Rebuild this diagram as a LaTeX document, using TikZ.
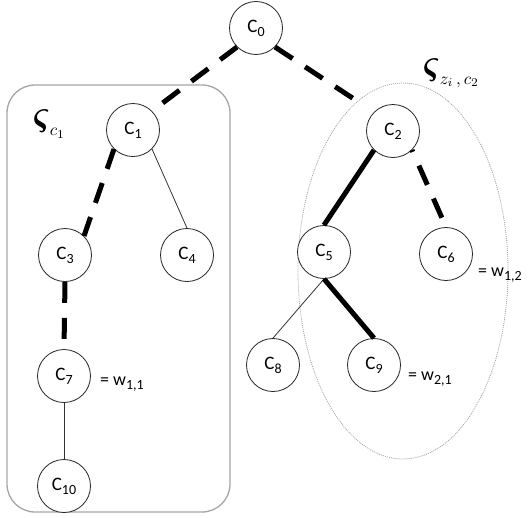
\documentclass[tikz,border=0pt]{standalone}
\usepackage[no-math]{fontspec}
\setmainfont{Carlito}
\newcommand\cn[1]{C\raisebox{-4pt}{\fontsize{14}{14}\selectfont #1}}
\newcommand\wl[1]{= w\raisebox{-4pt}{\fontsize{14}{14}\selectfont #1}}
\newcommand\bigsig{\scalebox{3.3}[4.2]{$\boldsymbol{\varsigma}$}}
\usepackage{amsmath}
\begin{document}
\begin{tikzpicture}[x=1pt,y=-1pt,
  cnode/.style={circle, draw=black!85, fill=white, line width=0.8pt, minimum size=53pt, inner sep=0pt, font=\fontsize{19}{19}\selectfont},
  thinedge/.style={draw=black!80, line width=0.8pt},
  heavy/.style={line width=5pt},
  heavydash/.style={line width=5pt, dash pattern=on 21pt off 15pt},
  wlab/.style={anchor=base west, inner sep=0pt, font=\fontsize{18}{18}\selectfont},
  cluster/.style={draw=gray!70, line width=1.3pt, rounded corners=28pt},
  cloud/.style={draw=gray!70, line width=0.8pt, dash pattern=on 1pt off 1pt},
  siglab/.style={inner sep=0pt}
]
\useasboundingbox (0,0) rectangle (530,517);
% enclosures
\draw[cluster] (7,85) rectangle (230,512);
\draw[cloud] (403,271) ellipse [x radius=105pt, y radius=188pt];
% nodes
\node[cnode] (C0) at (256,28) {\cn{0}};
\node[cnode] (C1) at (133,130) {\cn{1}};
\node[cnode] (C2) at (393,131) {\cn{2}};
\node[cnode] (C3) at (65,255) {\cn{3}};
\node[cnode] (C4) at (187,255) {\cn{4}};
\node[cnode] (C5) at (324,252) {\cn{5}};
\node[cnode] (C6) at (446,254) {\cn{6}};
\node[cnode] (C7) at (64,376) {\cn{7}};
\node[cnode] (C8) at (273,365) {\cn{8}};
\node[cnode] (C9) at (374,365) {\cn{9}};
\node[cnode] (C10) at (64,486) {\cn{10}};
% labels
\node[siglab] (s1) at (49,124) {\bigsig\raisebox{-7pt}{\scalebox{1.7}{$c_1$}}};
\node[siglab] (s2) at (451,73) {\bigsig\raisebox{-7pt}{\scalebox{1.7}{$z_i\,,c_2$}}};
\node[wlab] (w11) at (100,385) {\wl{1,1}};
\node[wlab] (w12) at (478,276) {\wl{1,2}};
\node[wlab] (w21) at (408,380) {\wl{2,1}};
% edges
\coordinate (e2) at (360,103);
\draw[heavydash] (C0.south west) -- (C1.north east);
\draw[heavydash] (C0.south east) -- (e2);
\draw[heavydash] (C1.south west) -- (C3.north east);
\draw[thinedge] (C1.south east) -- (C4.north);
\draw[heavydash] (C3.south) -- (C7.north);
\draw[thinedge] (C7.south) -- (C10.north);
\draw[heavy] (C2.south west) -- (C5.north);
\draw[heavydash, dash phase=19pt] (C2.south east) -- (C6.north);
\draw[thinedge] (C5.south) -- (C8.north);
\draw[heavy] (C5.south) -- (C9.north);
\end{tikzpicture}
\end{document}
